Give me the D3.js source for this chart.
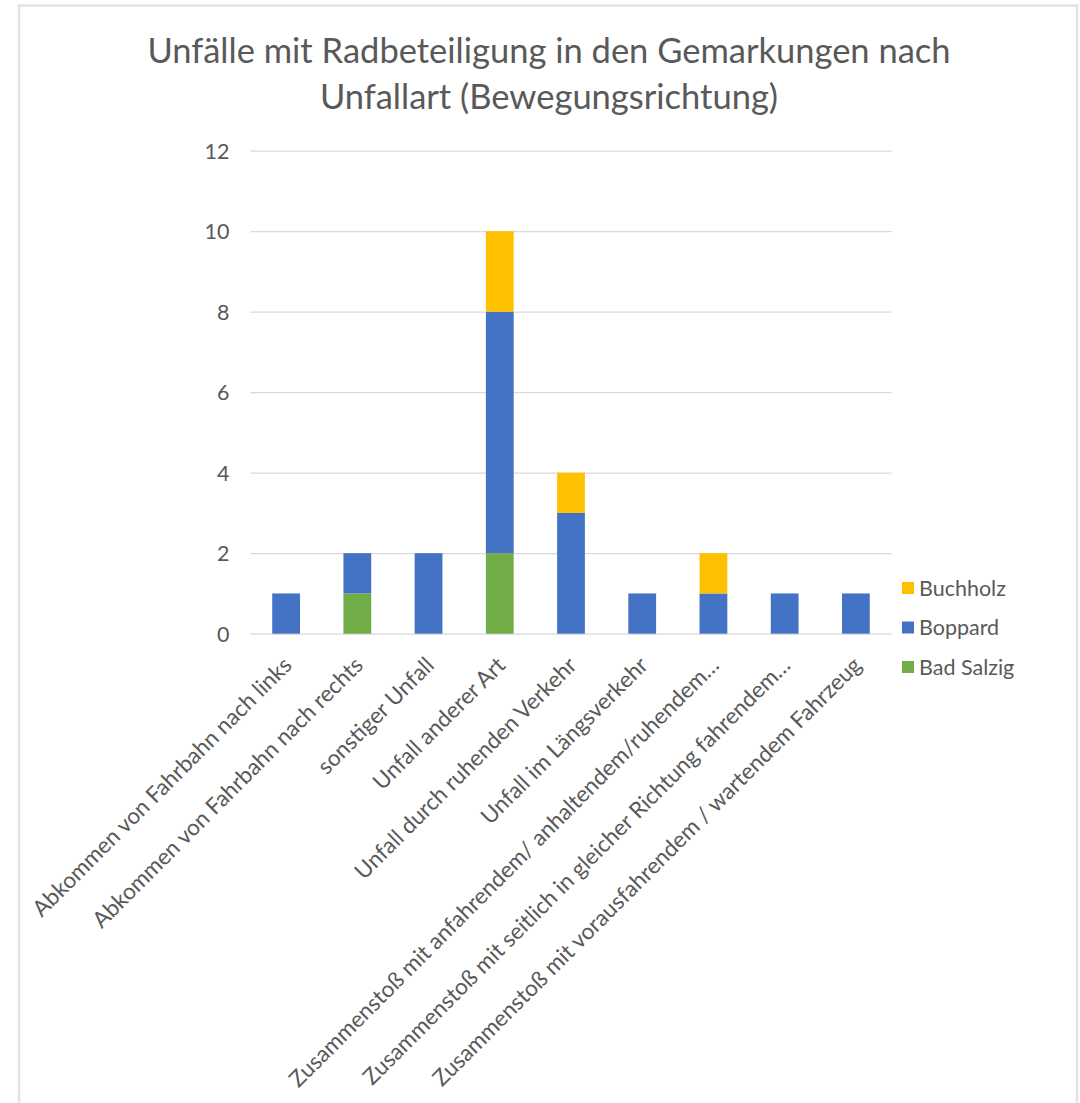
<!DOCTYPE html>
<html>
<head>
<meta charset="utf-8">
<script src="https://cdn.jsdelivr.net/npm/d3@7"></script>
<style>
  body { margin: 0; background: #fff; }
  svg text { font-family: Lato, "Open Sans", sans-serif; fill: #595959; }
</style>
</head>
<body>
<svg id="chart" width="1080" height="1103"></svg>
<script>
const categories = [
    'Abkommen von Fahrbahn nach links',
    'Abkommen von Fahrbahn nach rechts',
    'sonstiger Unfall',
    'Unfall anderer Art',
    'Unfall durch ruhenden Verkehr',
    'Unfall im Längsverkehr',
    'Zusammenstoß mit anfahrendem/ anhaltendem/ruhendem…',
    'Zusammenstoß mit seitlich in gleicher Richtung fahrendem…',
    'Zusammenstoß mit vorausfahrendem / wartendem Fahrzeug'
]
const badSalzig = [0, 1, 0, 2, 0, 0, 0, 0, 0]
const boppard   = [1, 1, 2, 6, 3, 1, 1, 1, 1]
const buchholz  = [0, 0, 0, 2, 1, 0, 1, 0, 0]
const seriesNames = ['Bad Salzig', 'Boppard', 'Buchholz']
const seriesColors = ['#70AD47', '#4472C4', '#FFC000']
const yTicks = [0, 2, 4, 6, 8, 10, 12]
const titleLines = ['Unfälle mit Radbeteiligung in den Gemarkungen nach', 'Unfallart (Bewegungsrichtung)']

const svg = d3.select('#chart')

// outer chart frame
svg.append('rect')
    .attr('x', 19).attr('y', 5.5)
    .attr('width', 1058).attr('height', 1120)
    .attr('fill', 'none')
    .attr('stroke', '#e4e4e4')
    .attr('stroke-width', 2.5)

const margin = { top: 150.7, left: 250.5 }
const width = 641
const height = 483

const g = svg.append('g').attr('transform', `translate(${margin.left}, ${margin.top})`)

const rows = categories.map((c, i) => ({
    cat: c,
    'Bad Salzig': badSalzig[i],
    'Boppard': boppard[i],
    'Buchholz': buchholz[i]
}))
const stacked = d3.stack().keys(seriesNames)(rows)

const x = d3.scaleBand().domain(categories).range([0, width]).paddingInner(0.61).paddingOuter(0.305)
const y = d3.scaleLinear().domain([0, 12]).range([height, 0])
const color = d3.scaleOrdinal().domain(seriesNames).range(seriesColors)

// gridlines + y labels
const yAxis = d3.axisLeft(y).tickValues(yTicks).tickSize(-width).tickPadding(21)
const yg = g.append('g').call(yAxis)
yg.select('.domain').remove()
yg.selectAll('line').attr('stroke', '#d9d9d9').attr('stroke-width', 1.3)
yg.selectAll('text').attr('font-size', '21.5px').attr('dy', '0.35em')

// bars
g.append('g').selectAll('g')
    .data(stacked)
    .join('g')
    .attr('fill', (d) => color(d.key))
    .selectAll('rect')
    .data((d) => d.filter((p) => p[1] - p[0] > 0))
    .join('rect')
    .attr('x', (d) => x(d.data.cat))
    .attr('y', (d) => y(d[1]))
    .attr('width', x.bandwidth())
    .attr('height', (d) => y(d[0]) - y(d[1]))

// x labels, rotated
const xAxis = d3.axisBottom(x).tickSize(0).tickPadding(0)
const xg = g.append('g').attr('transform', `translate(0, ${height})`).call(xAxis)
xg.select('.domain').remove()
xg.selectAll('text')
    .attr('font-size', '22.5px')
    .attr('text-anchor', 'end')
    .attr('dy', null)
    .attr('y', 0)
    .attr('transform', 'translate(7, 33) rotate(-45)')

// title
svg.append('g').selectAll('text')
    .data(titleLines)
    .join('text')
    .attr('x', 549)
    .attr('y', (d, i) => 63 + i * 46)
    .attr('text-anchor', 'middle')
    .attr('font-size', '34.5px')
    .text((d) => d)

// legend (top to bottom: Buchholz, Boppard, Bad Salzig)
const legendItems = seriesNames.slice().reverse()
const lg = svg.append('g').attr('transform', 'translate(902, 582)')
const li = lg.selectAll('g')
    .data(legendItems)
    .join('g')
    .attr('transform', (d, i) => `translate(0, ${i * 39.5})`)
li.append('rect')
    .attr('width', 12).attr('height', 12)
    .attr('fill', (d) => color(d))
li.append('text')
    .attr('x', 17).attr('y', 6)
    .attr('dy', '0.35em')
    .attr('font-size', '21.5px')
    .text((d) => d)
</script>
</body>
</html>
